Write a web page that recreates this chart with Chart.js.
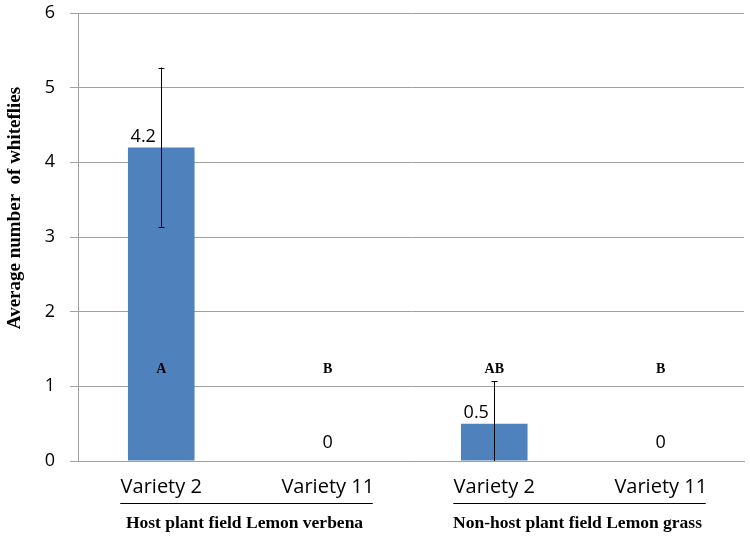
<!DOCTYPE html>
<html>
<head>
<meta charset="utf-8">
<script src="https://cdn.jsdelivr.net/npm/chart.js@4/dist/chart.umd.min.js"></script>
<style>
  html, body { margin: 0; padding: 0; background: #fff; }
  #wrap { width: 750px; height: 537px; position: relative; }
</style>
</head>
<body>
<div id="wrap"><canvas id="chart"></canvas></div>
<script>
// Whitefly counts per variety, two fields (host / non-host).
const categories = ["Variety 2", "Variety 11", "Variety 2", "Variety 11"];
const means = [4.2, 0, 0.5, 0];
const errors = [1.07, 0, 0.57, 0];
const letters = ["A", "B", "AB", "B"];
const fieldNames = ["Host plant field Lemon verbena", "Non-host plant field Lemon grass"];
const fieldMembers = [[0, 1], [2, 3]];
const yTickValues = [0, 1, 2, 3, 4, 5, 6];

const SERIF = '"Liberation Serif", "Times New Roman", serif';
const SANS = '"Open Sans", "Liberation Sans", sans-serif';
const LETTER_LEVEL = 1.23;   // axis units where the significance letters sit

const annotate = {
    id: "annotate",
    afterDatasetsDraw(chart) {
        const ctx = chart.ctx;
        const y = chart.scales.y;
        const meta = chart.getDatasetMeta(0);
        ctx.save();
        // error bars
        ctx.strokeStyle = "#000";
        ctx.lineWidth = 1;
        meta.data.forEach((bar, i) => {
            const e = errors[i];
            if (!e) return;
            const x = Math.round(bar.x) + 0.5;
            const hi = y.getPixelForValue(means[i] + e);
            const loVal = Math.max(0, means[i] - e);
            const lo = y.getPixelForValue(loVal);
            ctx.beginPath();
            ctx.moveTo(x, hi);
            ctx.lineTo(x, lo);
            ctx.moveTo(x - 3, Math.round(hi) + 0.5);
            ctx.lineTo(x + 3, Math.round(hi) + 0.5);
            if (loVal > 0) {
                ctx.moveTo(x - 3, Math.round(lo) + 0.5);
                ctx.lineTo(x + 3, Math.round(lo) + 0.5);
            }
            ctx.stroke();
        });
        // value labels
        ctx.fillStyle = "#000";
        ctx.font = "18px " + SANS;
        ctx.textAlign = "center";
        ctx.textBaseline = "middle";
        meta.data.forEach((bar, i) => {
            if (means[i] > 0) {
                ctx.fillText(String(means[i]), bar.x - 18, bar.y - 11);
            } else {
                ctx.fillText("0", bar.x, y.getPixelForValue(0) - 18);
            }
        });
        // significance letters
        ctx.font = "bold 14px " + SERIF;
        meta.data.forEach((bar, i) => {
            ctx.fillText(letters[i], bar.x, y.getPixelForValue(LETTER_LEVEL));
        });
        ctx.restore();
    },
    afterDraw(chart) {
        const ctx = chart.ctx;
        const x = chart.scales.x;
        ctx.save();
        // field underlines and names
        ctx.strokeStyle = "#000";
        ctx.lineWidth = 1;
        ctx.fillStyle = "#000";
        ctx.font = "bold 17.5px " + SERIF;
        ctx.textAlign = "center";
        ctx.textBaseline = "middle";
        fieldMembers.forEach((members, g) => {
            const a = x.getPixelForValue(members[0]);
            const b = x.getPixelForValue(members[members.length - 1]);
            ctx.beginPath();
            ctx.moveTo(a - 41, 503.5);
            ctx.lineTo(b + 45, 503.5);
            ctx.stroke();
            ctx.fillText(fieldNames[g], (a + b) / 2, 523);
        });
        // y axis title
        ctx.translate(15, 208);
        ctx.rotate(-Math.PI / 2);
        ctx.font = "bold 19px " + SERIF;
        ctx.fillText("Average number  of whiteflies", 0, 0);
        ctx.restore();
    }
};

new Chart(document.getElementById("chart"), {
    type: "bar",
    data: {
        labels: categories,
        datasets: [{
            data: means,
            backgroundColor: "#4f81bd",
            borderWidth: 0,
            barPercentage: 0.4,
            categoryPercentage: 1.0,
        }],
    },
    options: {
        responsive: true,
        maintainAspectRatio: false,
        animation: false,
        devicePixelRatio: 1,
        layout: { padding: { top: 13, right: 6, bottom: 0, left: 0 } },
        plugins: {
            legend: { display: false },
            tooltip: { enabled: false },
        },
        scales: {
            x: {
                grid: { display: false, drawTicks: false },
                border: { display: true, color: "#a0a0a0", width: 1 },
                ticks: { color: "#000", font: { family: SANS, size: 20 }, padding: 14, maxRotation: 0 },
                afterFit: (s) => { s.height = 76; s.paddingLeft = 0; s.paddingRight = 0; },
            },
            y: {
                min: 0,
                max: 6,
                afterBuildTicks: (s) => { s.ticks = yTickValues.map((v) => ({ value: v })); },
                grid: { color: "#a0a0a0", tickLength: 8, lineWidth: 1 },
                border: { display: true, color: "#a0a0a0", width: 1 },
                ticks: { color: "#000", font: { family: SANS, size: 18 }, padding: 15 },
                afterFit: (s) => { s.width = 78; s.paddingTop = 0; s.paddingBottom = 0; },
            },
        },
    },
    plugins: [annotate],
});
</script>
</body>
</html>
